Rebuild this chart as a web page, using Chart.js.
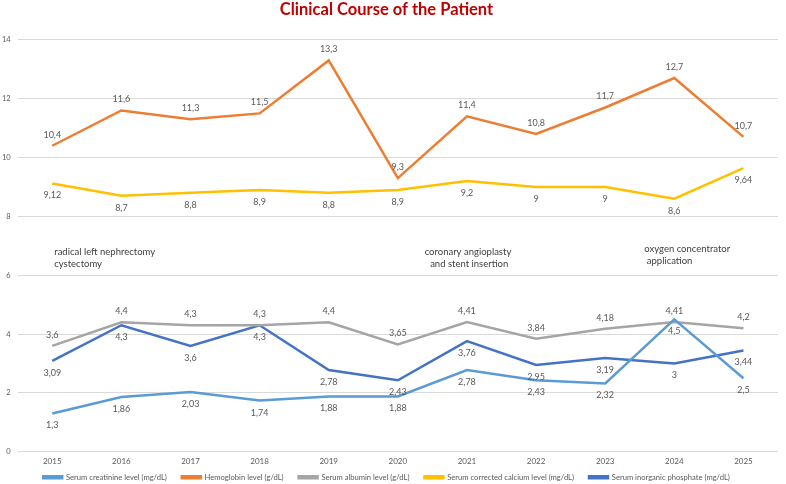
<!DOCTYPE html>
<html>
<head>
<meta charset="utf-8">
<script src="https://cdn.jsdelivr.net/npm/chart.js@4"></script>
<style>
  html, body { margin: 0; padding: 0; background: #fff; }
  #contenedor { width: 786px; height: 484px; }
</style>
</head>
<body>
<div id="contenedor"><canvas id="grafica"></canvas></div>
<script>
// Datos
const anios = ['2015', '2016', '2017', '2018', '2019', '2020', '2021', '2022', '2023', '2024', '2025'];
const creatinina = [1.3, 1.86, 2.03, 1.74, 1.88, 1.88, 2.78, 2.43, 2.32, 4.5, 2.5];
const hemoglobina = [10.4, 11.6, 11.3, 11.5, 13.3, 9.3, 11.4, 10.8, 11.7, 12.7, 10.7];
const albumina = [3.6, 4.4, 4.3, 4.3, 4.4, 3.65, 4.41, 3.84, 4.18, 4.41, 4.2];
const calcio = [9.12, 8.7, 8.8, 8.9, 8.8, 8.9, 9.2, 9, 9, 8.6, 9.64];
const fosfato = [3.09, 4.3, 3.6, 4.3, 2.78, 2.43, 3.76, 2.95, 3.19, 3, 3.44];

// Notas de eventos clinicos (anio de anclaje, valor en el eje y)
const eventos = [
  { anio: '2015', valor: 6.8, lineas: ['radical left nephrectomy', 'cystectomy'], alinear: 'left', dx: 2 },
  { anio: '2021', valor: 6.8, lineas: ['coronary angioplasty', ' and stent insertion'], alinear: 'center', dx: 1 },
  { anio: '2024', valor: 6.9, lineas: ['oxygen concentrator', ' application'], alinear: 'left', dx: -30 }
];

const fuente = 'Lato, "DejaVu Sans", sans-serif';

const series = [
  { etiqueta: 'Serum creatinine level (mg/dL)', datos: creatinina, color: '#5B9BD5', arriba: false },
  { etiqueta: 'Hemoglobin level (g/dL)', datos: hemoglobina, color: '#ED7D31', arriba: true },
  { etiqueta: 'Serum albumin level (g/dL)', datos: albumina, color: '#A5A5A5', arriba: true },
  { etiqueta: 'Serum corrected calcium level (mg/dL)', datos: calcio, color: '#FFC000', arriba: false },
  { etiqueta: 'Serum inorganic phosphate (mg/dL)', datos: fosfato, color: '#4472C4', arriba: false }
];

// Plugin para las etiquetas de valores y las notas
const etiquetasPlugin = {
  id: 'etiquetas',
  afterDatasetsDraw(chart) {
    const ctx = chart.ctx;
    ctx.save();
    ctx.font = '9px ' + fuente;
    ctx.fillStyle = '#595959';
    ctx.textAlign = 'center';
    ctx.textBaseline = 'middle';
    chart.data.datasets.forEach((ds, i) => {
      const meta = chart.getDatasetMeta(i);
      meta.data.forEach((pt, j) => {
        const texto = String(ds.data[j]).replace('.', ',');
        const dy = series[i].arriba ? -11 : 12;
        ctx.fillText(texto, pt.x, pt.y + dy);
      });
    });

    ctx.font = '9.5px ' + fuente;
    ctx.fillStyle = '#404040';
    const x = chart.scales.x;
    const y = chart.scales.y;
    eventos.forEach(ev => {
      ctx.textAlign = ev.alinear;
      const px = x.getPixelForValue(anios.indexOf(ev.anio)) + ev.dx;
      const py = y.getPixelForValue(ev.valor);
      ev.lineas.forEach((linea, k) => {
        ctx.fillText(linea, px, py + k * 12);
      });
    });
    ctx.restore();
  }
};

// Sube la leyenda para dejarla pegada a las etiquetas del eje x
const leyendaPlugin = {
  id: 'subirLeyenda',
  afterLayout(chart) {
    if (chart.legend) {
      chart.legend.top -= 13;
      chart.legend.bottom -= 13;
    }
  }
};

new Chart(document.getElementById('grafica'), {
  type: 'line',
  data: {
    labels: anios,
    datasets: series.map(s => ({
      label: s.etiqueta,
      data: s.datos,
      borderColor: s.color,
      backgroundColor: s.color,
      borderWidth: 2.5,
      pointRadius: 0,
      tension: 0,
      fill: false
    }))
  },
  options: {
    responsive: true,
    maintainAspectRatio: false,
    animation: false,
    layout: { padding: { left: -5, right: 8, top: 0, bottom: -20 } },
    plugins: {
      title: {
        display: true,
        text: 'Clinical Course of the Patient',
        color: '#C00000',
        font: { family: fuente, size: 16.5, weight: 'bold' },
        padding: { top: 0, bottom: 20 }
      },
      legend: {
        position: 'bottom',
        labels: {
          color: '#595959',
          font: { family: fuente, size: 7.6 },
          boxWidth: 19,
          boxHeight: 2,
          padding: 15
        }
      },
      tooltip: { enabled: false }
    },
    scales: {
      x: {
        offset: true,
        grid: { display: false, drawTicks: false },
        border: { display: false },
        ticks: { color: '#595959', font: { family: fuente, size: 8 }, padding: 5 }
      },
      y: {
        min: 0,
        max: 14,
        ticks: { stepSize: 2, color: '#595959', font: { family: fuente, size: 7.5 }, padding: 7 },
        grid: { color: '#D9D9D9', drawTicks: false },
        border: { display: false }
      }
    }
  },
  plugins: [etiquetasPlugin, leyendaPlugin]
});
</script>
</body>
</html>
